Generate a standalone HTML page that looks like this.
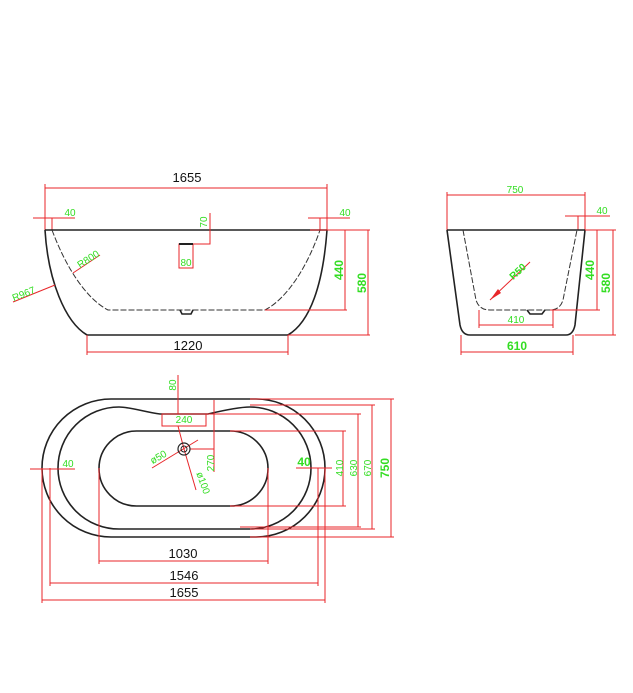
<!DOCTYPE html>
<html><head><meta charset="utf-8"><style>
html,body{margin:0;padding:0;background:#fff;width:633px;height:693px;overflow:hidden}
svg{display:block}
text{font-family:"Liberation Sans",sans-serif}
.r{stroke:#e8262a;stroke-width:1;fill:none}
.k{stroke:#222;stroke-width:1.6;fill:none}
.d{stroke:#333;stroke-width:1;fill:none;stroke-dasharray:6 2}
.g{fill:#33dd22;font-size:10px}
.gb{fill:#33dd22;font-size:12px;font-weight:bold}
.b{fill:#111;font-size:13px}
</style></head><body>
<svg width="633" height="693" viewBox="0 0 633 693" xmlns="http://www.w3.org/2000/svg">
<!-- SIDE VIEW -->
<line class="r" x1="45" y1="188" x2="327" y2="188"/>
<line class="r" x1="45" y1="184" x2="45" y2="230"/>
<line class="r" x1="327" y1="184" x2="327" y2="230"/>
<text class="b" x="187" y="182" text-anchor="middle">1655</text>
<line class="r" x1="33" y1="218" x2="75" y2="218"/>
<line class="r" x1="52" y1="218" x2="52" y2="230"/>
<text class="g" x="70" y="216" text-anchor="middle">40</text>
<line class="r" x1="308" y1="218" x2="350" y2="218"/>
<line class="r" x1="320" y1="218" x2="320" y2="230"/>
<text class="g" x="345" y="216" text-anchor="middle">40</text>
<line class="k" x1="45" y1="230" x2="327" y2="230"/>
<path class="k" d="M45,230 C48,280 65,322 87,335 L288,335 C310,322 323,285 327,230"/>
<path class="d" d="M52,230 C65,265 85,298 108,310 L265,310 C288,298 308,265 320,230"/>
<path class="k" d="M180,310 L182,314 L191,314 L193,310" stroke-width="1"/>
<rect x="179" y="244" width="14" height="24" fill="none" stroke="#e8262a"/>
<line x1="179" y1="244" x2="193" y2="244" stroke="#222" stroke-width="2"/>
<text class="g" x="186" y="266" text-anchor="middle">80</text>
<polyline class="r" points="193,244 210,244 210,213"/>
<text class="g" transform="translate(207,222) rotate(-90)" text-anchor="middle">70</text>
<line class="r" x1="310" y1="230" x2="370" y2="230"/>
<line class="r" x1="265" y1="310" x2="347" y2="310"/>
<line class="r" x1="288" y1="335" x2="370" y2="335"/>
<line class="r" x1="345" y1="230" x2="345" y2="310"/>
<line class="r" x1="368" y1="230" x2="368" y2="335"/>
<text class="gb" transform="translate(343,270) rotate(-90)" text-anchor="middle">440</text>
<text class="gb" transform="translate(366,283) rotate(-90)" text-anchor="middle">580</text>
<line class="r" x1="87" y1="335" x2="87" y2="355"/>
<line class="r" x1="288" y1="335" x2="288" y2="355"/>
<line class="r" x1="87" y1="352" x2="288" y2="352"/>
<text class="b" x="188" y="350" text-anchor="middle">1220</text>
<line class="r" x1="73" y1="273" x2="100" y2="255"/>
<text class="g" transform="translate(90,262) rotate(-33)" text-anchor="middle" font-size="9">R800</text>
<line class="r" x1="13" y1="302" x2="55" y2="285"/>
<text class="g" transform="translate(25,297) rotate(-22)" text-anchor="middle" font-size="9">R967</text>

<!-- END VIEW -->
<line class="r" x1="447" y1="195" x2="585" y2="195"/>
<line class="r" x1="447" y1="192" x2="447" y2="230"/>
<line class="r" x1="585" y1="192" x2="585" y2="230"/>
<text class="g" x="515" y="193" text-anchor="middle">750</text>
<line class="r" x1="565" y1="216" x2="610" y2="216"/>
<line class="r" x1="578" y1="216" x2="578" y2="230"/>
<text class="g" x="602" y="214" text-anchor="middle">40</text>
<line class="k" x1="447" y1="230" x2="585" y2="230"/>
<path class="k" d="M447,230 L460,325 Q462,335 470,335 L566,335 Q573,335 575,325 L585,230"/>
<path class="d" d="M463,230 L476,300 Q479,310 490,310 L550,310 Q560,310 563,300 L577,230"/>
<path class="k" d="M527,310 L530,314 L542,314 L545,310" stroke-width="1"/>
<line class="r" x1="585" y1="230" x2="616" y2="230"/>
<line class="r" x1="550" y1="310" x2="600" y2="310"/>
<line class="r" x1="575" y1="335" x2="616" y2="335"/>
<line class="r" x1="597" y1="230" x2="597" y2="310"/>
<line class="r" x1="613" y1="230" x2="613" y2="335"/>
<text class="gb" transform="translate(594,270) rotate(-90)" text-anchor="middle">440</text>
<text class="gb" transform="translate(610,283) rotate(-90)" text-anchor="middle">580</text>
<line class="r" x1="479" y1="310" x2="479" y2="328"/>
<line class="r" x1="553" y1="310" x2="553" y2="328"/>
<line class="r" x1="479" y1="325" x2="553" y2="325"/>
<text class="g" x="516" y="323" text-anchor="middle">410</text>
<line class="r" x1="461" y1="335" x2="461" y2="355"/>
<line class="r" x1="573" y1="335" x2="573" y2="355"/>
<line class="r" x1="461" y1="352" x2="573" y2="352"/>
<text class="gb" x="517" y="350" text-anchor="middle">610</text>
<line class="r" x1="490" y1="300" x2="530" y2="262"/>
<polygon points="490,300 498,289 501,293" fill="#e8262a"/>
<text class="g" transform="translate(520,274) rotate(-43)" text-anchor="middle" font-weight="bold">R50</text>

<!-- TOP VIEW -->
<rect class="k" x="42" y="399" width="283" height="138" rx="69" ry="69"/>
<path class="k" d="M119,407 C130,407 145,412 160,414 L208,414 C225,410 240,407 250,407 L250,407 A61,61 0 0 1 250,529 L119,529 A61,61 0 0 1 119,407 Z"/>
<rect class="k" x="99" y="431" width="169" height="75" rx="37.5" ry="37.5"/>
<rect class="r" x="162" y="414" width="44" height="12"/>
<text class="g" x="184" y="423" text-anchor="middle">240</text>
<line class="r" x1="178" y1="375" x2="178" y2="414"/>
<text class="g" transform="translate(176,385) rotate(-90)" text-anchor="middle">80</text>
<line class="r" x1="214" y1="400" x2="214" y2="472"/>
<line class="r" x1="190" y1="449" x2="214" y2="449"/>
<text class="g" transform="translate(214,463) rotate(-90)" text-anchor="middle">270</text>
<line class="r" x1="152" y1="468" x2="198" y2="440"/>
<line class="r" x1="184" y1="449" x2="196" y2="490"/>
<line class="r" x1="178" y1="426" x2="184" y2="449"/>
<circle cx="184" cy="449" r="6" fill="none" stroke="#222" stroke-width="1.2"/>
<circle cx="184" cy="449" r="3" fill="none" stroke="#222" stroke-width="1"/>
<text class="g" transform="translate(160,460) rotate(-30)" text-anchor="middle" font-size="9">ø50</text>
<text class="g" transform="translate(200,484) rotate(70)" text-anchor="middle" font-size="9">ø100</text>
<line class="r" x1="30" y1="469" x2="75" y2="469"/>
<text class="g" x="68" y="467" text-anchor="middle">40</text>
<line class="r" x1="296" y1="468" x2="332" y2="468"/>
<text class="gb" x="304" y="466" text-anchor="middle">40</text>
<!-- right dims -->
<line class="r" x1="230" y1="431" x2="346" y2="431"/>
<line class="r" x1="230" y1="506" x2="346" y2="506"/>
<line class="r" x1="205" y1="414" x2="361" y2="414"/>
<line class="r" x1="240" y1="527" x2="361" y2="527"/>
<line class="r" x1="250" y1="405" x2="375" y2="405"/>
<line class="r" x1="250" y1="529" x2="375" y2="529"/>
<line class="r" x1="250" y1="399" x2="394" y2="399"/>
<line class="r" x1="250" y1="537" x2="394" y2="537"/>
<line class="r" x1="343" y1="431" x2="343" y2="506"/>
<line class="r" x1="358" y1="414" x2="358" y2="527"/>
<line class="r" x1="372" y1="405" x2="372" y2="529"/>
<line class="r" x1="391" y1="399" x2="391" y2="537"/>
<text class="g" transform="translate(343,468) rotate(-90)" text-anchor="middle">410</text>
<text class="g" transform="translate(357,468) rotate(-90)" text-anchor="middle">630</text>
<text class="g" transform="translate(371,468) rotate(-90)" text-anchor="middle">670</text>
<text class="gb" transform="translate(389,468) rotate(-90)" text-anchor="middle">750</text>
<!-- bottom dims -->
<line class="r" x1="99" y1="468" x2="99" y2="564"/>
<line class="r" x1="268" y1="468" x2="268" y2="564"/>
<line class="r" x1="99" y1="561" x2="268" y2="561"/>
<text class="b" x="183" y="558" text-anchor="middle">1030</text>
<line class="r" x1="50" y1="468" x2="50" y2="586"/>
<line class="r" x1="318" y1="468" x2="318" y2="586"/>
<line class="r" x1="50" y1="583" x2="318" y2="583"/>
<text class="b" x="184" y="580" text-anchor="middle">1546</text>
<line class="r" x1="42" y1="468" x2="42" y2="603"/>
<line class="r" x1="325" y1="468" x2="325" y2="603"/>
<line class="r" x1="42" y1="600" x2="325" y2="600"/>
<text class="b" x="184" y="597" text-anchor="middle">1655</text>
</svg>
</body></html>
